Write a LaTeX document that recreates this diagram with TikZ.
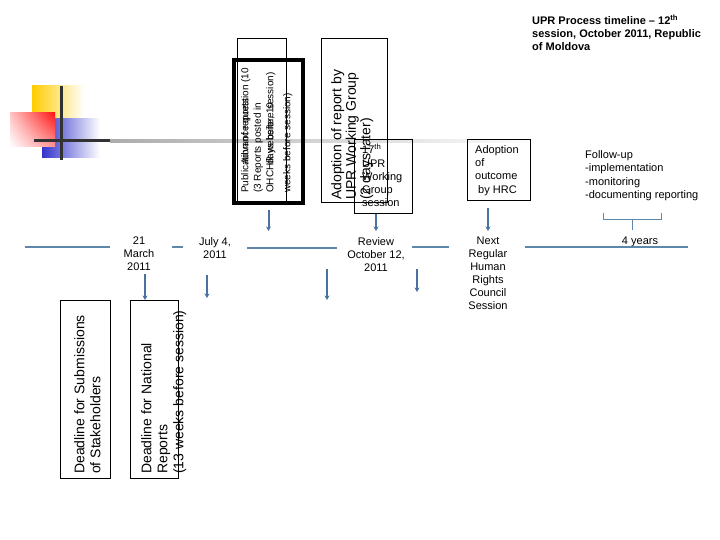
\documentclass[tikz,border=0pt]{standalone}
\usepackage{fontspec}
\setmainfont{Liberation Sans}
\usetikzlibrary{arrows.meta, shadings}
\definecolor{arrowblue}{RGB}{74,114,160}
\definecolor{lineblue}{RGB}{95,135,170}
\definecolor{logoyellow}{RGB}{255,204,0}
\definecolor{logoblue}{RGB}{51,51,204}
\definecolor{logored}{RGB}{255,20,20}
\definecolor{logodark}{RGB}{50,50,50}

\begin{document}
\begin{tikzpicture}[x=1pt, y=-1pt,
    box/.style={draw, line width=0.8pt, inner sep=0, anchor=north west},
    rtext/.style={rotate=90, anchor=north west, align=left, inner sep=0},
    lbl/.style={align=center, anchor=north, inner sep=0, font=\fontsize{11}{13}\selectfont},
    small/.style={align=left, anchor=north west, inner sep=0, font=\fontsize{11}{13.3}\selectfont},
    arr/.style={-{Stealth[length=4.5pt, width=5pt]}, line width=2pt, arrowblue},
    tline/.style={line width=1.2pt, lineblue}
]
\useasboundingbox (0,0) rectangle (720,540);

% Logo in the top left corner
\shade[left color=logoyellow, middle color=logoyellow!75!white, right color=white] (32,86) rectangle (84,118);
\shade[left color=logoblue, middle color=logoblue!80!white, right color=white] (42,119) rectangle (100,158);
\shade[upper right=logored, upper left=logored!25!white, lower right=logored!45!white, lower left=white] (10,113) rectangle (55,147);
\draw[logodark, line width=3pt] (61,86) -- (61,160);
\draw[logodark, line width=3pt] (34,141) -- (112,141);
\shade[left color=gray!65, right color=white] (110,140) rectangle (540,143);

% Title
\node[small, font=\bfseries\fontsize{11}{13}\selectfont] (title) at (532,15)
    {UPR Process timeline -- 12\textsuperscript{th}\\session, October 2011, Republic\\of Moldova};

% Upper boxes
\node[box, minimum width=49pt, minimum height=165pt] (pubthin) at (237,38) {};
\node[box, line width=4pt, minimum width=69pt, minimum height=143pt] (pubthick) at (232,58) {};
\node[box, minimum width=66pt, minimum height=164pt] (adoptrep) at (321,38) {};
\node[box, minimum width=58pt, minimum height=74pt] (wgsess) at (354,139) {};
\node[box, minimum width=63pt, minimum height=61pt] (hrcbox) at (467,139) {};

% Texts of the upper boxes
\node[rtext, font=\fontsize{10}{12.5}\selectfont] (pubtext) at (241,193)
    {Publication of reports\\(3 Reports posted in\\OHCHR website, 10\\[4.5pt]weeks before session)};
\node[rtext, font=\fontsize{10}{25}\selectfont] (advtext) at (241,165)
    {Advance question (10\\days before session)};
\node[rtext, font=\fontsize{14}{14.5}\selectfont] (adopttext) at (331,200)
    {Adoption of report by\\UPR Working Group\\(2 days later)};
\node[small] (wgtext) at (362,144) {17\textsuperscript{th}\\UPR\\Working\\Group\\session};
\node[small] (hrctext) at (475,145) {Adoption\\of\\outcome\\\hspace{3pt}by HRC};
\node[small, font=\fontsize{11}{13.6}\selectfont] (follow) at (585,150)
    {Follow-up\\-implementation\\-monitoring\\-documenting reporting};

% Timeline labels
\node[lbl] (march) at (139,237) {21\\March\\2011};
\node[lbl] (july) at (215,237) {July 4,\\2011};
\node[lbl] (review) at (376,237) {Review\\October 12,\\2011};
\node[lbl] (nexthrc) at (488,237) {Next\\Regular\\Human\\Rights\\Council\\Session};
\node[lbl] (years) at (640,237) {4 years};

% Timeline lines
\foreach \a/\b/\y in {25/110/247, 172/183/247, 247/337/248, 412/449/247, 525/688/247}
    \draw[tline] (\a,\y) -- (\b,\y);

% Bracket over 4 years
\draw[lineblue, line width=1pt] (603,213) -- (603,220) -- (661,220) -- (661,213);
\draw[lineblue, line width=1pt] (632,220) -- (632,230);

% Lower boxes
\node[box, minimum width=50pt, minimum height=178pt] (subbox) at (60,300) {};
\node[box, minimum width=48pt, minimum height=178pt] (natlbox) at (130,300) {};
\node[rtext, font=\fontsize{14}{16}\selectfont] (subtext) at (74,474)
    {Deadline for Submissions\\of Stakeholders};
\node[rtext, font=\fontsize{14}{16}\selectfont] (natltext) at (141,474)
    {Deadline for National\\Reports\\(13 weeks before session)};

% Arrows
\coordinate (pubend) at ([yshift=-26pt]pubthick.south);
\coordinate (julytop) at (207,275);
\coordinate (julyend) at (207,298);
\coordinate (midtop) at (327,269);
\coordinate (midend) at (327,300);
\coordinate (revtop) at (417,269);
\coordinate (revend) at (417,292);
\draw[arr] ([yshift=-5pt]pubthick.south) -- (pubend);
\draw[arr] (wgsess.south -| review.north) -- ([yshift=6pt]review.north);
\draw[arr] ([yshift=-7pt]hrcbox.south -| nexthrc.north) -- ([yshift=6pt]nexthrc.north);
\draw[arr] ([xshift=6pt, yshift=-3pt]march.south) -- ([xshift=6pt]march.south |- natlbox.north);
\draw[arr] (julytop) -- (julyend);
\draw[arr] (midtop) -- (midend);
\draw[arr] (revtop) -- (revend);

\end{tikzpicture}
\end{document}
